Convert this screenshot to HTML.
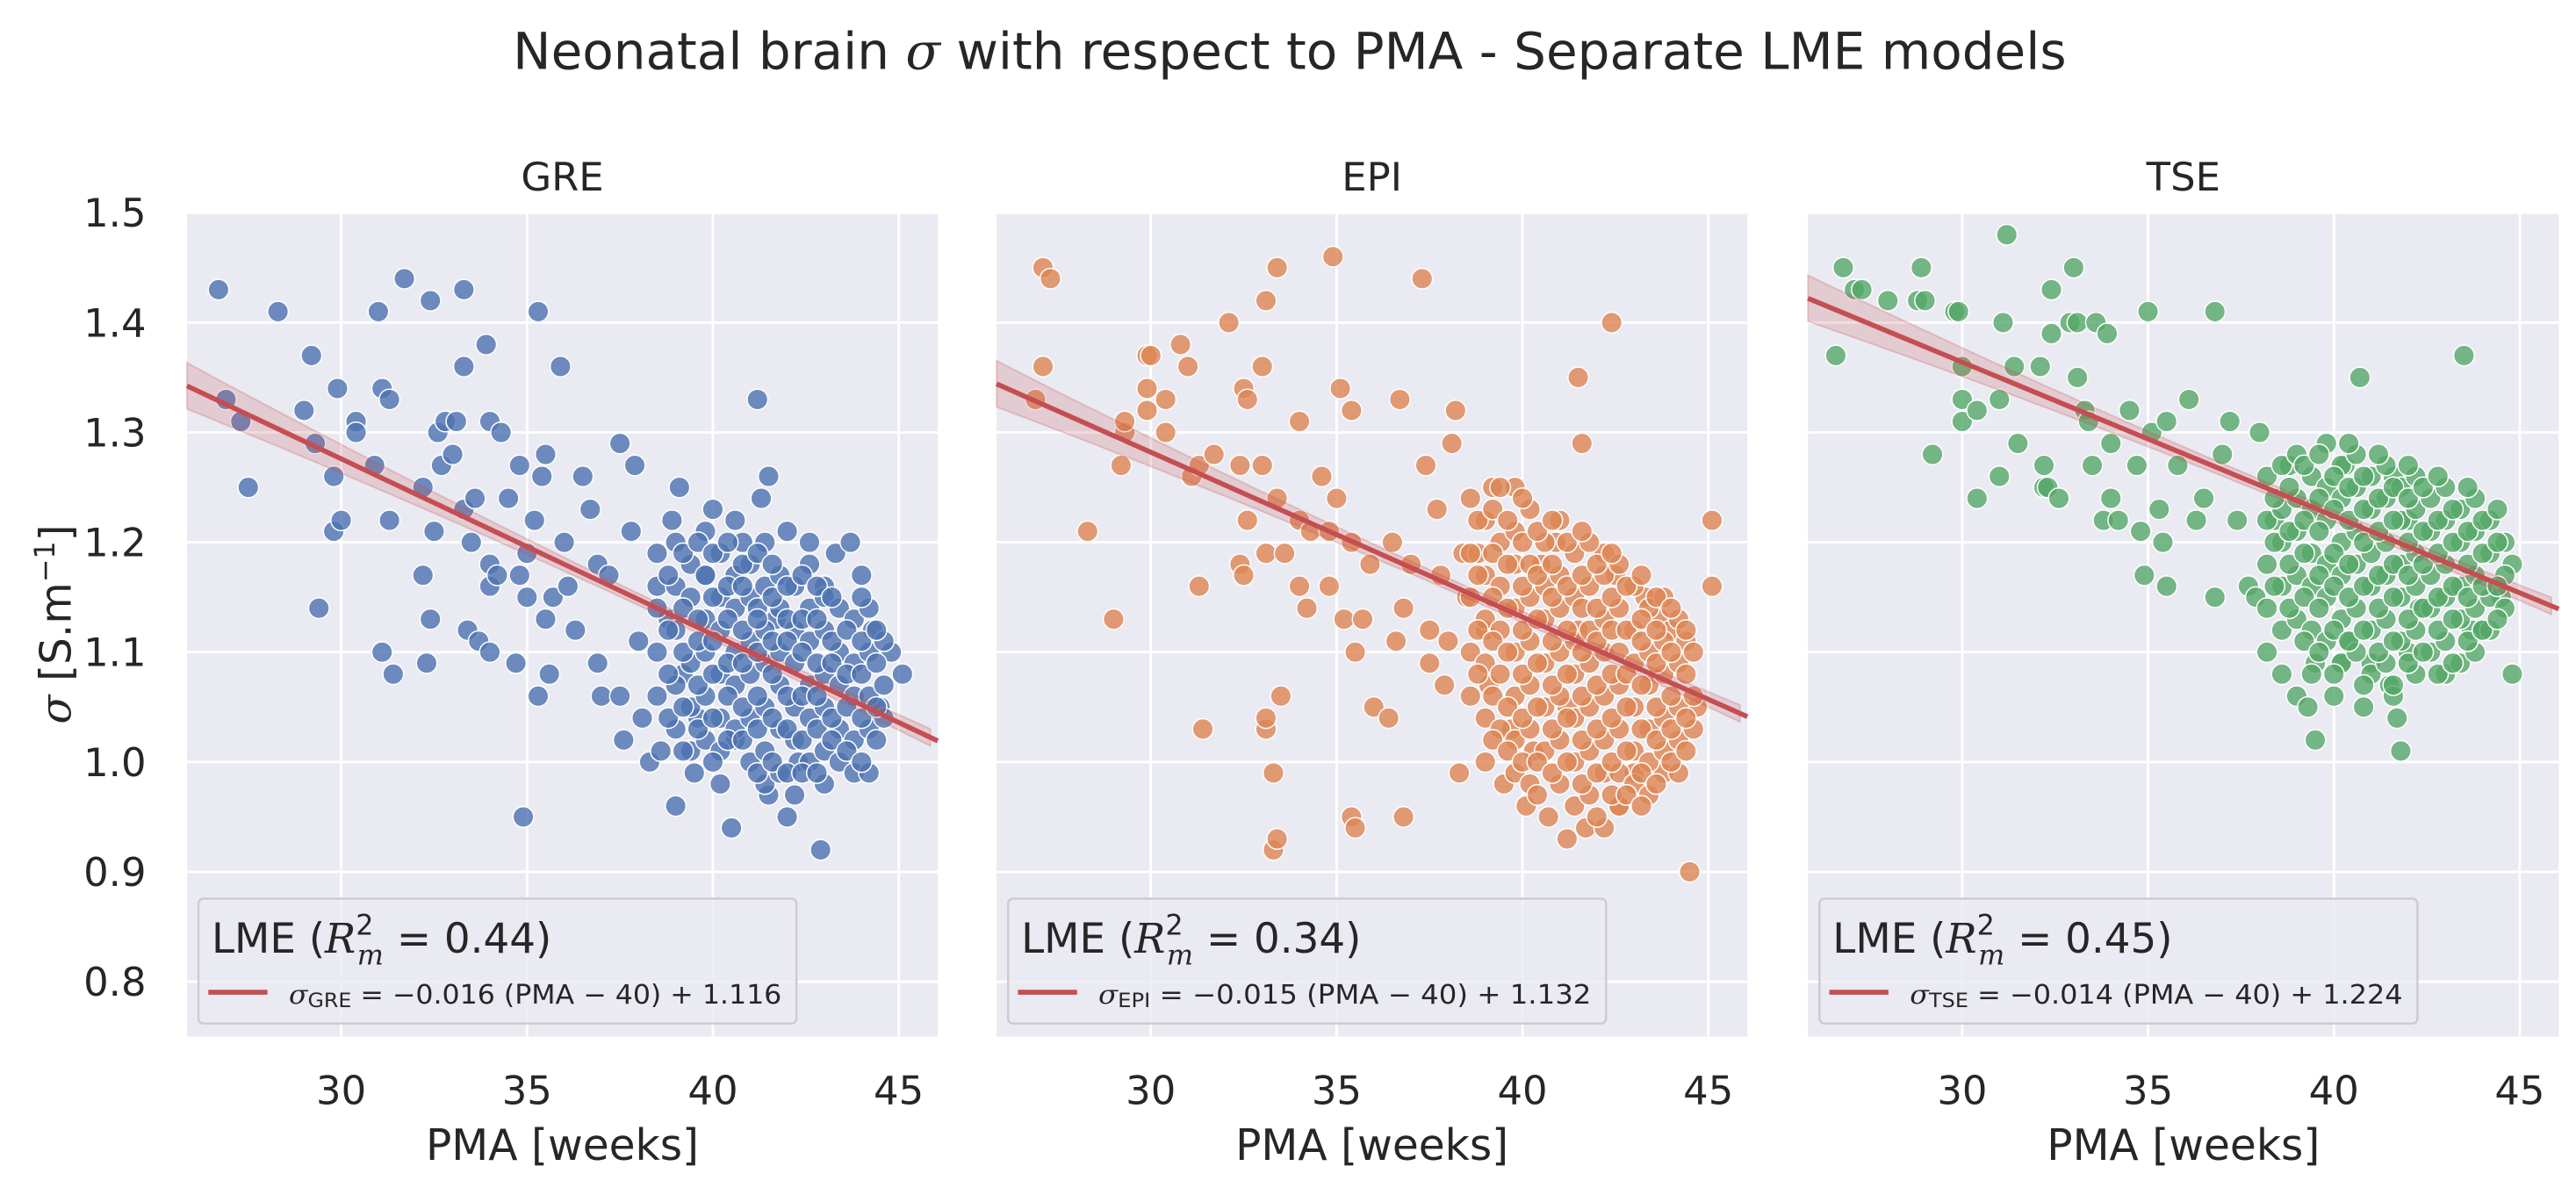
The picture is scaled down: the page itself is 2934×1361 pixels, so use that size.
<!DOCTYPE html>
<html><head><meta charset="utf-8"><style>
html,body{margin:0;padding:0;background:#fff;}
svg{display:block;font-family:"DejaVu Sans","Liberation Sans",sans-serif;}
</style></head><body>
<svg id="chart" width="2934" height="1361" viewBox="0 0 1568 727.4" preserveAspectRatio="none" xmlns="http://www.w3.org/2000/svg">
<text x="785" y="42" text-anchor="middle" font-size="31" fill="#262626">Neonatal brain <tspan font-family="DejaVu Serif" font-style="italic">σ</tspan> with respect to PMA - Separate LME models</text>
<text transform="translate(43,380) rotate(-90)" text-anchor="middle" font-size="26" fill="#262626"><tspan font-family="DejaVu Serif" font-style="italic">σ</tspan> [S.m<tspan dy="-10" font-size="17">−1</tspan><tspan dy="10">]</tspan></text>
<g id="panels"></g>
</svg>
<script>
const xTicks = [30, 35, 40, 45];
const yTicks = [0.8, 0.9, 1.0, 1.1, 1.2, 1.3, 1.4, 1.5];
const panelNames = ["GRE", "EPI", "TSE"];
const slopes = [-0.016, -0.015, -0.014];
const intercepts = [1.116, 1.132, 1.224];
const r2Values = ["0.44", "0.34", "0.45"];

const greOutliers = [[26.7,1.43],[26.9,1.33],[27.3,1.31],[27.5,1.25],[28.3,1.41],[29.0,1.32],[29.2,1.37],[29.3,1.29],[29.4,1.14],[29.8,1.26],[29.8,1.21],[29.9,1.34],[30.0,1.22],[30.4,1.31],[30.4,1.30],[30.9,1.27],[31.0,1.41],[31.1,1.34],[31.1,1.10],[31.3,1.33],[31.4,1.08],[31.3,1.22],[31.7,1.44],[32.2,1.25],[32.2,1.17],[32.4,1.42],[32.4,1.13],[32.3,1.09],[32.5,1.21],[32.6,1.30],[32.7,1.27],[32.8,1.31],[33.0,1.28],[33.1,1.31],[33.3,1.43],[33.3,1.36],[33.3,1.23],[33.5,1.20],[33.4,1.12],[33.6,1.24],[33.7,1.11],[33.9,1.38],[34.0,1.31],[34.0,1.18],[34.0,1.16],[34.0,1.10],[34.2,1.17],[34.3,1.30],[34.5,1.24],[34.7,1.09],[34.8,1.27],[34.8,1.17],[34.9,0.95],[35.0,1.19],[35.0,1.15],[35.2,1.22],[35.3,1.41],[35.3,1.06],[35.5,1.28],[35.4,1.26],[35.5,1.13],[35.6,1.08],[35.7,1.15],[35.9,1.36],[36.0,1.20],[36.1,1.16],[36.3,1.12],[36.5,1.26],[36.7,1.23],[36.9,1.09],[36.9,1.18],[37.0,1.06],[37.2,1.17],[37.5,1.29],[37.5,1.06],[37.6,1.02],[37.9,1.27],[37.8,1.21],[38.0,1.11],[38.1,1.04],[38.3,1.00],[38.5,1.16],[38.6,1.01],[38.8,1.13],[38.9,1.22],[39.0,0.96],[39.1,1.25],[39.2,1.08],[39.5,0.99],[39.6,1.04],[39.8,1.17],[40.0,1.23],[40.2,0.98],[40.5,0.94],[40.6,1.02],[40.8,1.20],[41.2,1.33],[41.3,1.24],[41.5,1.26],[41.7,1.13],[41.5,0.97],[42.0,1.21],[42.0,0.95],[42.3,1.00],[42.6,1.20],[42.9,0.92],[43.0,1.16],[43.3,1.19],[43.7,1.20],[44.0,1.17],[44.3,1.12],[44.5,1.05],[44.8,1.10],[45.1,1.08]];
const greClusterX = [38.5,39.0,39.4,39.8,40.2,40.6,41.0,41.4,41.8,42.2,42.6,43.0,43.4,43.8,44.2,44.6];
const greClusterY = [[1.19,1.14,1.10,1.06],[1.20,1.16,1.12,1.07,1.03],[1.18,1.15,1.09,1.05,1.01],[1.21,1.17,1.13,1.10,1.06,1.02],[1.19,1.15,1.12,1.08,1.04,1.01],[1.22,1.17,1.14,1.10,1.07,1.03],[1.18,1.15,1.11,1.08,1.04,1.00],[1.20,1.16,1.12,1.09,1.05,1.01,0.98],[1.17,1.14,1.10,1.07,1.03,0.99],[1.16,1.12,1.09,1.05,1.02,0.97],[1.18,1.14,1.11,1.07,1.04,1.00],[1.15,1.12,1.08,1.05,1.01,0.98],[1.14,1.10,1.07,1.03,1.00],[1.13,1.09,1.06,1.02,0.99],[1.14,1.10,1.06,1.03,0.99],[1.11,1.07,1.04]];
const greCluster2X = [38.8,39.2,39.6,40.0,40.4,40.8,41.2,41.6,42.0,42.4,42.8,43.2,43.6,44.0,44.4];
const greCluster2Y = [[1.17,1.12,1.08,1.04],[1.19,1.14,1.10,1.05,1.01],[1.20,1.13,1.11,1.07,1.03],[1.19,1.15,1.11,1.08,1.04,1.00],[1.20,1.16,1.13,1.09,1.06,1.02],[1.18,1.16,1.12,1.09,1.05,1.02],[1.19,1.14,1.13,1.10,1.06,1.03,0.99],[1.18,1.15,1.11,1.08,1.04,1.00],[1.16,1.13,1.11,1.06,1.03,0.99],[1.17,1.13,1.10,1.06,1.02,0.99],[1.16,1.13,1.09,1.06,1.03,0.99],[1.15,1.11,1.09,1.04,1.02],[1.12,1.08,1.05,1.01],[1.15,1.11,1.08,1.04,1.00],[1.12,1.09,1.05,1.02]];

const epiOutliers = [[26.9,1.33],[27.1,1.36],[27.1,1.45],[27.3,1.44],[28.3,1.21],[29.0,1.13],[29.2,1.27],[29.3,1.30],[29.3,1.31],[29.9,1.37],[29.9,1.34],[29.9,1.32],[30.0,1.37],[30.4,1.33],[30.4,1.30],[30.8,1.38],[31.0,1.36],[31.1,1.26],[31.3,1.16],[31.4,1.03],[31.3,1.27],[31.7,1.28],[32.1,1.40],[32.4,1.18],[32.4,1.27],[32.5,1.34],[32.6,1.33],[32.5,1.17],[32.6,1.22],[33.0,1.27],[33.0,1.36],[33.1,1.19],[33.1,1.42],[33.1,1.03],[33.1,1.04],[33.3,0.99],[33.4,1.45],[33.3,0.92],[33.4,0.93],[33.4,1.24],[33.5,1.06],[33.6,1.19],[34.0,1.31],[34.0,1.16],[34.0,1.22],[34.2,1.14],[34.3,1.21],[34.6,1.26],[34.8,1.21],[34.9,1.46],[34.8,1.16],[35.0,1.24],[35.1,1.34],[35.2,1.13],[35.4,0.95],[35.4,1.20],[35.5,1.10],[35.4,1.32],[35.5,0.94],[35.7,1.13],[35.9,1.18],[36.0,1.05],[36.4,1.04],[36.5,1.20],[36.6,1.11],[36.7,1.33],[36.8,0.95],[36.8,1.14],[37.0,1.18],[37.3,1.44],[37.4,1.27],[37.5,1.12],[37.5,1.09],[37.7,1.23],[37.8,1.17],[37.9,1.07],[38.0,1.11],[38.1,1.29],[38.2,1.32],[38.3,0.99],[38.4,1.19],[38.5,1.15],[38.8,1.19],[39.0,1.12],[39.1,1.07],[39.2,1.25],[39.5,0.98],[39.8,1.25],[39.7,1.03],[40.1,0.96],[40.3,1.01],[40.5,1.18],[40.7,0.95],[40.9,1.20],[41.2,1.05],[41.2,0.93],[41.5,1.12],[41.5,1.35],[41.6,1.29],[41.7,0.94],[42.2,1.19],[42.2,0.94],[42.4,1.40],[42.5,1.17],[42.6,0.96],[43.0,0.99],[43.3,1.15],[43.7,1.13],[43.8,0.99],[44.0,1.12],[44.4,1.11],[44.5,0.90],[44.7,1.05],[45.1,1.22],[45.1,1.16]];
const epiClusterX = [38.6,39.0,39.4,39.8,40.2,40.6,41.0,41.4,41.8,42.2,42.6,43.0,43.4,43.8,44.2,44.6];
const epiClusterY = [[1.24,1.19,1.15,1.10,1.06],[1.22,1.17,1.13,1.09,1.04,1.00],[1.25,1.20,1.16,1.12,1.08,1.03],[1.21,1.18,1.14,1.10,1.06,1.02,0.99],[1.23,1.18,1.15,1.11,1.07,1.03,0.98],[1.20,1.16,1.13,1.09,1.05,1.01],[1.22,1.17,1.14,1.10,1.06,1.02,0.98],[1.19,1.15,1.11,1.08,1.04,1.00,0.96],[1.20,1.16,1.12,1.09,1.05,1.01,0.97],[1.17,1.13,1.10,1.06,1.02,0.99],[1.18,1.14,1.10,1.07,1.03,0.99,0.96],[1.16,1.12,1.09,1.05,1.01,0.98],[1.14,1.10,1.07,1.03,1.00,0.97],[1.15,1.11,1.08,1.04,1.01],[1.13,1.09,1.05,1.02,0.99],[1.10,1.06,1.03]];
const epiCluster2X = [38.8,39.2,39.6,40.0,40.4,40.8,41.2,41.6,42.0,42.4,42.8,43.2,43.6,44.0,44.4];
const epiCluster2Y = [[1.22,1.17,1.12,1.08],[1.23,1.19,1.15,1.11,1.06,1.02],[1.22,1.18,1.14,1.10,1.05,1.01],[1.24,1.20,1.16,1.12,1.08,1.04,1.00],[1.21,1.17,1.13,1.09,1.05,1.00,0.97],[1.22,1.18,1.15,1.11,1.07,1.03,0.99],[1.20,1.16,1.12,1.08,1.04,1.00],[1.21,1.17,1.14,1.10,1.06,1.02,0.98],[1.18,1.14,1.11,1.07,1.03,0.99,0.95],[1.19,1.15,1.12,1.08,1.04,1.00,0.97],[1.16,1.12,1.08,1.05,1.01,0.97],[1.17,1.13,1.11,1.07,1.03,0.99,0.96],[1.15,1.12,1.09,1.05,1.02,0.98],[1.14,1.10,1.06,1.03,1.00],[1.12,1.08,1.04,1.01]];

const tseOutliers = [[26.6,1.37],[26.8,1.45],[27.1,1.43],[27.3,1.43],[28.0,1.42],[28.8,1.42],[28.9,1.45],[29.0,1.42],[29.2,1.28],[29.8,1.41],[29.9,1.41],[30.0,1.36],[30.0,1.33],[30.0,1.31],[30.4,1.32],[30.4,1.24],[31.1,1.40],[31.0,1.33],[31.0,1.26],[31.2,1.48],[31.4,1.36],[31.5,1.29],[32.1,1.36],[32.2,1.27],[32.2,1.25],[32.3,1.25],[32.4,1.43],[32.4,1.39],[32.6,1.24],[32.9,1.40],[33.0,1.45],[33.1,1.40],[33.1,1.35],[33.3,1.32],[33.4,1.31],[33.5,1.27],[33.6,1.40],[33.8,1.22],[33.9,1.39],[34.0,1.29],[34.0,1.24],[34.2,1.22],[34.5,1.32],[34.7,1.27],[34.8,1.21],[34.9,1.17],[35.0,1.41],[35.1,1.30],[35.3,1.23],[35.4,1.20],[35.5,1.31],[35.5,1.16],[35.8,1.27],[36.1,1.33],[36.3,1.22],[36.5,1.24],[36.8,1.41],[36.8,1.15],[37.0,1.28],[37.2,1.31],[37.4,1.22],[37.7,1.16],[37.9,1.15],[38.0,1.30],[38.2,1.10],[38.4,1.22],[38.6,1.08],[38.8,1.27],[39.0,1.06],[39.3,1.05],[39.5,1.09],[39.5,1.02],[40.0,1.06],[40.2,1.09],[40.3,1.27],[40.4,1.11],[40.7,1.35],[40.8,1.05],[41.0,1.09],[41.5,1.07],[41.6,1.26],[41.6,1.06],[41.7,1.04],[41.8,1.01],[42.0,1.10],[42.0,1.22],[42.3,1.14],[43.0,1.08],[43.5,1.37],[43.7,1.12],[44.0,1.12],[44.5,1.15],[44.8,1.08],[44.8,1.18]];
const tseClusterX = [38.2,38.6,39.0,39.4,39.8,40.2,40.6,41.0,41.4,41.8,42.2,42.6,43.0,43.4,43.8,44.2,44.6];
const tseClusterY = [[1.26,1.22,1.18,1.14],[1.27,1.23,1.20,1.16,1.12],[1.28,1.24,1.21,1.17,1.13],[1.26,1.23,1.19,1.16,1.12,1.08],[1.29,1.25,1.22,1.18,1.15,1.11],[1.27,1.24,1.20,1.17,1.13,1.09],[1.28,1.25,1.21,1.18,1.14,1.10],[1.26,1.23,1.19,1.16,1.12,1.08],[1.27,1.24,1.20,1.17,1.13,1.09],[1.25,1.22,1.18,1.15,1.11],[1.26,1.23,1.19,1.16,1.12,1.08],[1.24,1.21,1.17,1.14,1.10],[1.25,1.22,1.18,1.15,1.11],[1.23,1.20,1.16,1.13,1.09],[1.24,1.21,1.17,1.14,1.10],[1.22,1.19,1.15,1.12],[1.20,1.17,1.14]];
const tseCluster2X = [38.4,38.8,39.2,39.6,40.0,40.4,40.8,41.2,41.6,42.0,42.4,42.8,43.2,43.6,44.0,44.4];
const tseCluster2Y = [[1.24,1.20,1.16],[1.25,1.21,1.18,1.14],[1.27,1.22,1.19,1.15,1.11],[1.28,1.24,1.21,1.17,1.14,1.10],[1.26,1.23,1.19,1.16,1.12,1.08],[1.29,1.25,1.22,1.18,1.15,1.11],[1.26,1.23,1.20,1.16,1.12,1.07],[1.28,1.24,1.21,1.17,1.14,1.10],[1.25,1.22,1.18,1.15,1.11,1.07],[1.27,1.24,1.20,1.17,1.13,1.09],[1.25,1.21,1.18,1.14,1.10],[1.26,1.22,1.19,1.15,1.12,1.08],[1.23,1.20,1.16,1.13,1.09],[1.25,1.21,1.18,1.15,1.11],[1.22,1.19,1.16,1.12],[1.23,1.20,1.16,1.13]];

const NS = "http://www.w3.org/2000/svg";
const X_MIN = 25.85, X_MAX = 46.05, Y_MIN = 0.75, Y_MAX = 1.5;
const PW = 457, TOP = 129.5, BOTTOM = 631;
const panelX0 = [113.8, 606.6, 1100.5];
const colors = ["#4C72B0", "#DD8452", "#55A868"];
const outlierSets = [greOutliers, epiOutliers, tseOutliers];
const clusterXs = [greClusterX, epiClusterX, tseClusterX];
const clusterYs = [greClusterY, epiClusterY, tseClusterY];
const cluster2Xs = [greCluster2X, epiCluster2X, tseCluster2X];
const cluster2Ys = [greCluster2Y, epiCluster2Y, tseCluster2Y];

function mk(tag, attrs, parent) {
  const e = document.createElementNS(NS, tag);
  for (const k in attrs) e.setAttribute(k, attrs[k]);
  parent.appendChild(e);
  return e;
}

const root = document.getElementById("panels");
panelNames.forEach((name, p) => {
  const x0 = panelX0[p];
  const sx = v => x0 + (v - X_MIN) / (X_MAX - X_MIN) * PW;
  const sy = v => TOP + (Y_MAX - v) / (Y_MAX - Y_MIN) * (BOTTOM - TOP);
  const g = mk("g", {}, root);
  
  

  const bg = mk("rect", {x: x0, y: TOP, width: PW, height: BOTTOM - TOP, fill: "#EAEAF2"}, g);
  
  

  xTicks.forEach(t => {
    const l = mk("line", {x1: sx(t), x2: sx(t), y1: TOP, y2: BOTTOM, stroke: "#fff", "stroke-width": 1.5}, g);
    
    
    const tx = mk("text", {x: sx(t), y: 672, "text-anchor": "middle", "font-size": 24, fill: "#262626"}, g);
    tx.textContent = t;
    
    
  });
  yTicks.forEach(t => {
    const l = mk("line", {x1: x0, x2: x0 + PW, y1: sy(t), y2: sy(t), stroke: "#fff", "stroke-width": 1.5}, g);
    
    
    if (p === 0) {
      const tx = mk("text", {x: 89, y: sy(t) + 8.5, "text-anchor": "end", "font-size": 24, fill: "#262626"}, g);
      tx.textContent = t.toFixed(1);
      
      
    }
  });

  const pts = outlierSets[p].slice();
  clusterXs[p].forEach((cx, i) => clusterYs[p][i].forEach(cy => pts.push([cx, cy])));
  cluster2Xs[p].forEach((cx, i) => cluster2Ys[p][i].forEach(cy => pts.push([cx, cy])));
  const pg = mk("g", {}, g);
  
  
  pts.forEach(d => {
    const c = mk("circle", {cx: sx(d[0]), cy: sy(d[1]), r: 6.3, fill: colors[p], "fill-opacity": 0.8, stroke: "#fff", "stroke-width": 0.8}, pg);
    
    
  });

  const f = v => intercepts[p] + slopes[p] * (v - 40);
  const w = v => 0.005 + 0.00008 * (v - 40) * (v - 40);
  let up = [], lo = [];
  for (let v = X_MIN; v <= X_MAX + 0.001; v += 0.5) {
    up.push(sx(v).toFixed(1) + "," + sy(f(v) + w(v)).toFixed(1));
    lo.unshift(sx(v).toFixed(1) + "," + sy(f(v) - w(v)).toFixed(1));
  }
  const band = mk("polygon", {points: up.concat(lo).join(" "), fill: "#C44E52", "fill-opacity": 0.2, stroke: "#C44E52", "stroke-opacity": 0.25}, g);
  
  
  const rl = mk("line", {x1: sx(X_MIN), y1: sy(f(X_MIN)), x2: sx(X_MAX), y2: sy(f(X_MAX)), stroke: "#C44E52", "stroke-width": 3}, g);
  
  

  const title = mk("text", {x: x0 + PW / 2, y: 116, "text-anchor": "middle", "font-size": 24, fill: "#262626"}, g);
  title.textContent = name;
  
  
  const xl = mk("text", {x: x0 + PW / 2, y: 706, "text-anchor": "middle", "font-size": 26, fill: "#262626"}, g);
  xl.textContent = "PMA [weeks]";
  
  

  const lg = mk("g", {}, g);
  
  
  const lx = x0 + 7;
  mk("rect", {x: lx, y: 547, width: 364, height: 76, rx: 3, fill: "#EAEAF2", "fill-opacity": 0.8, stroke: "#CCCCCC", "stroke-width": 1.3}, lg);
  const lt = mk("text", {x: lx + 8, y: 580, "font-size": 25, fill: "#262626"}, lg);
  lt.innerHTML = 'LME (<tspan font-family="DejaVu Serif" font-style="italic">R</tspan><tspan font-size="17" dy="-11">2</tspan><tspan font-size="17" dx="-10" dy="18" font-family="DejaVu Serif" font-style="italic">m</tspan><tspan dy="-7"> = ' + r2Values[p] + ')</tspan>';
  
  
  const ll = mk("line", {x1: lx + 6, x2: lx + 42, y1: 604, y2: 604, stroke: "#C44E52", "stroke-width": 3}, lg);
  
  
  const le = mk("text", {x: lx + 55, y: 611, "font-size": 16, fill: "#262626", textLength: 300, lengthAdjust: "spacingAndGlyphs"}, lg);
  le.innerHTML = '<tspan font-family="DejaVu Serif" font-style="italic">σ</tspan><tspan font-size="12" dy="2">' + name + '</tspan><tspan dy="-2"> = −' + Math.abs(slopes[p]).toFixed(3) + ' (PMA − 40) + ' + intercepts[p].toFixed(3) + '</tspan>';
  
  
});
</script>
</body></html>
